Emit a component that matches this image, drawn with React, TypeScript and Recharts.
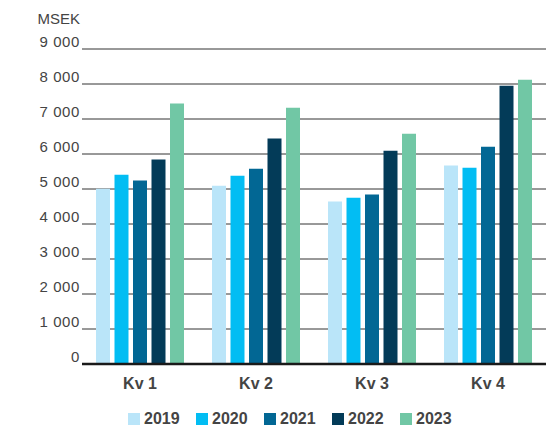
import React from 'react';
import { BarChart, Bar, XAxis, YAxis, CartesianGrid, Legend } from 'recharts';

const quarters = ['Kv 1', 'Kv 2', 'Kv 3', 'Kv 4'];
const v2019 = [5010, 5090, 4640, 5670];
const v2020 = [5410, 5380, 4750, 5610];
const v2021 = [5240, 5580, 4840, 6210];
const v2022 = [5840, 6440, 6090, 7950];
const v2023 = [7440, 7320, 6580, 8120];
const yTicks = [0, 1000, 2000, 3000, 4000, 5000, 6000, 7000, 8000, 9000];

const series = [
  { key: '2019', values: v2019, color: '#bae5f9' },
  { key: '2020', values: v2020, color: '#02bdf3' },
  { key: '2021', values: v2021, color: '#026794' },
  { key: '2022', values: v2022, color: '#033b58' },
  { key: '2023', values: v2023, color: '#71c7a5' },
];

const data = quarters.map((q, i) => {
  const row: Record<string, string | number> = { quarter: q };
  series.forEach((s) => {
    row[s.key] = s.values[i];
  });
  return row;
});

const FONT = '"Liberation Sans", Arial, sans-serif';
const TEXT = '#444';

const fmt = (v: number) => {
  if (v < 1000) return String(v);
  const th = Math.floor(v / 1000);
  const rest = String(v % 1000).padStart(3, '0');
  return `${th}\u00a0${rest}`;
};

const YTick = (props: any) => {
  const { x, y, payload } = props;
  return (
    <text x={x} y={y - 2} textAnchor="end" fontSize={15} letterSpacing={0.6} fill={TEXT} fontFamily={FONT}>
      {fmt(payload.value)}
    </text>
  );
};

const XTick = (props: any) => {
  const { x, y, payload } = props;
  return (
    <text x={x} y={y + 25} textAnchor="middle" fontSize={16} fontWeight="bold" fill={TEXT} fontFamily={FONT}>
      {payload.value}
    </text>
  );
};

const LegendContent = () => (
  <div style={{ display: 'flex', alignItems: 'center', height: 14, paddingLeft: 128, fontFamily: FONT }}>
    {series.map((s) => (
      <div key={s.key} style={{ display: 'flex', alignItems: 'center', width: 68 }}>
        <div style={{ width: 12, height: 12, background: s.color, marginRight: 4 }} />
        <span style={{ fontSize: 16, fontWeight: 'bold', color: TEXT, lineHeight: '14px' }}>{s.key}</span>
      </div>
    ))}
  </div>
);

export default function App() {
  return (
    <div style={{ position: 'absolute', left: 0, top: 0, width: 546, height: 426 }}>
      <div
        style={{
          position: 'absolute',
          right: 546 - 80,
          top: 11,
          fontSize: 15,
          color: TEXT,
          fontFamily: FONT,
          lineHeight: '15px',
        }}
      >
        MSEK
      </div>
      <BarChart
        width={546}
        height={426}
        data={data}
        margin={{ top: 49, right: 0, left: 0, bottom: 0 }}
        barSize={14}
        barGap={4.5}
      >
        <CartesianGrid vertical={false} stroke="#333" strokeWidth={1} />
        <YAxis
          width={82}
          domain={[0, 9000]}
          ticks={yTicks}
          axisLine={false}
          tickLine={false}
          tickSize={0}
          tickMargin={2}
          tick={<YTick />}
          interval={0}
        />
        <XAxis
          dataKey="quarter"
          height={48}
          axisLine={{ stroke: '#1a1a1a', strokeWidth: 2.5 }}
          tickLine={false}
          tickSize={0}
          tickMargin={0}
          tick={<XTick />}
        />
        <Legend verticalAlign="bottom" content={<LegendContent />} wrapperStyle={{ left: 0, width: 546 }} />
        {series.map((s) => (
          <Bar key={s.key} dataKey={s.key} fill={s.color} isAnimationActive={false} />
        ))}
      </BarChart>
    </div>
  );
}
